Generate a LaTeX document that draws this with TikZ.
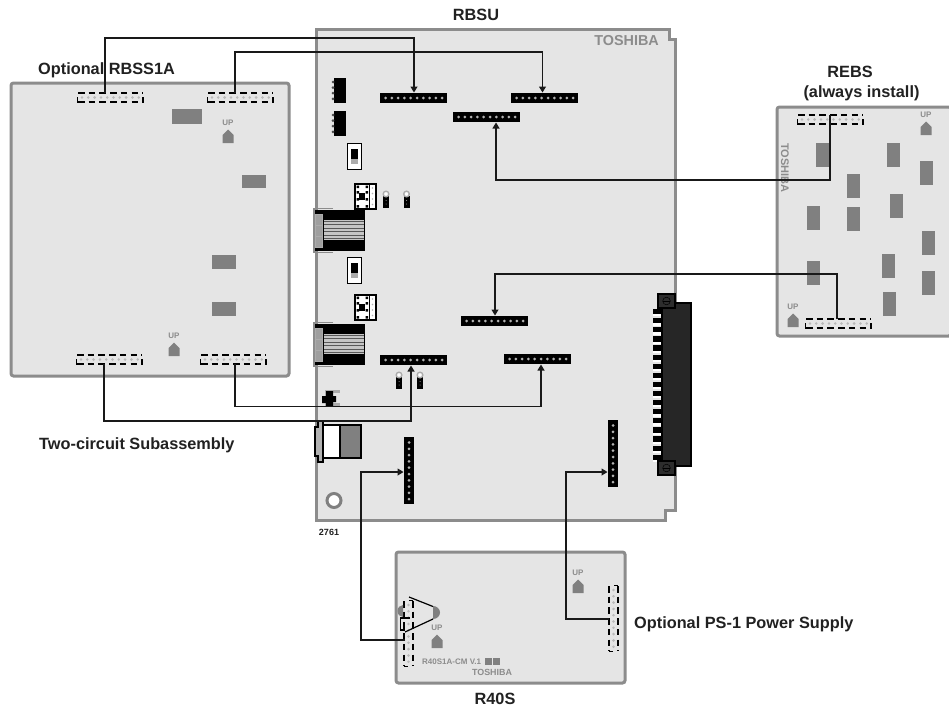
\documentclass[tikz,border=0pt]{standalone}
\usepackage{fontspec}
\setmainfont{Liberation Sans}
\usetikzlibrary{arrows.meta}
\definecolor{bd}{gray}{0.90}
\definecolor{ol}{gray}{0.55}
\definecolor{mg}{gray}{0.50}
\definecolor{tx}{gray}{0.55}
\definecolor{lb}{gray}{0.13}
\newcommand{\mysolidh}[3]{% x y name : horizontal header
  \fill[black] (#1,#2) rectangle ++(67,10);
  \coordinate (#3) at (#1+33.5,#2+5);
  \foreach \i in {0,...,9}{\fill[gray!60] (#1+5.5+\i*6.3,#2+5) circle (1.5);}}
\newcommand{\mysolidv}[3]{%
  \fill[black] (#1,#2) rectangle ++(10,67);
  \coordinate (#3) at (#1+5,#2+33.5);
  \foreach \i in {0,...,9}{\fill[gray!60] (#1+5,#2+5.5+\i*6.3) circle (1.5);}}
\tikzset{hdr/.style={black,line width=1.3,dash pattern=on 6.5 off 4.2}}
\newcommand{\mydashh}[2]{%
  \draw[hdr] (#1+1,#2) -- ++(65,0);
  \draw[hdr] (#1+1,#2+9) -- ++(65,0);
  \draw[black,line width=1.3] (#1+.5,#2+4) -- ++(0,5.5) (#1+66,#2+4) -- ++(0,5.5);
  \foreach \i in {0,...,9}{\fill[gray!55] (#1+5+\i*6.3,#2+4.5) circle (1.4);}}
\newcommand{\mydashv}[2]{%
  \draw[hdr] (#1,#2+1) -- ++(0,65);
  \draw[hdr] (#1+9,#2+1) -- ++(0,65);
  \draw[black,line width=1.3] (#1,#2+66.5) -- ++(4,0) (#1+5,#2+.5) -- ++(4,0);
  \foreach \i in {0,...,9}{\fill[gray!55] (#1+4.5,#2+5+\i*6.3) circle (1.4);}}
\newcommand{\myuparr}[3]{% x y(centre of UP) name
  \node[tx,font=\bfseries\fontsize{8}{8}\selectfont,inner sep=0] (#3) at (#1,#2) {UP};
  \fill[mg] (#1-5.5,#2+20) -- (#1-5.5,#2+12) -- (#1,#2+6.5) -- (#1+5.5,#2+12) -- (#1+5.5,#2+20) -- cycle;}
\newcommand{\mygr}[4]{\fill[mg] (#1,#2) rectangle (#3,#4);}
\newcommand{\myvsw}[2]{%
  \draw[black,fill=white,line width=1.2] (#1,#2) rectangle ++(14,26);
  \fill[black] (#1+3.5,#2+5) rectangle ++(7,10);
  \fill[gray!65] (#1+3.5,#2+15) rectangle ++(7,5);}
\newcommand{\myjack}[2]{%
  \draw[black,fill=white,line width=1.2] (#1,#2) rectangle ++(21,25);
  \fill[black] (#1+1.5,#2+1.5) rectangle ++(2.5,2.5) (#1+1.5,#2+7) rectangle ++(2.5,2.5) (#1+1.5,#2+14) rectangle ++(2.5,2.5) (#1+1.5,#2+21) rectangle ++(2.5,2.5);
  \fill[black] (#1+10.5,#2+1.5) rectangle ++(2.5,2.5) (#1+10.5,#2+7) rectangle ++(2.5,2.5) (#1+10.5,#2+14) rectangle ++(2.5,2.5) (#1+10.5,#2+21) rectangle ++(2.5,2.5);
  \fill[black] (#1+4,#2+9) rectangle ++(6,7);
  \fill[black] (#1+13.5,#2) rectangle ++(1.5,25);
  \foreach \i in {0,...,3}{\fill[gray!60] (#1+17.5,#2+4+\i*5.5) circle (0.9);}}
\newcommand{\myterm}[2]{%
  \fill[black] (#1-3,#2+2) rectangle ++(6,12);
  \draw[gray!65,fill=white,line width=1.4] (#1,#2) circle (2.8);
  \fill[gray!70] (#1,#2+6.5) circle (0.5) (#1,#2+10) circle (0.5);}
\newcommand{\myrj}[2]{%
  \fill[black] (#1,#2) rectangle ++(50,41);
  \fill[gray!45] (#1+9,#2+10) rectangle ++(40,20);
  \foreach \i in {0,...,5}{\draw[gray!70!black,line width=.7] (#1+9,#2+11+\i*3.5) -- ++(40,0);}
  \draw[gray!65,fill=gray!75,line width=.7] (#1,#2+4) rectangle ++(7,11) (#1,#2+15) rectangle ++(7,11) (#1,#2+26) rectangle ++(7,11);
  \draw[ol,line width=1.4] (#1+18,#2-1.5)--(#1-1,#2-1.5)--(#1-1,#2+42.5)--(#1+18,#2+42.5);}
\begin{document}
\begin{tikzpicture}[x=1pt,y=-1pt,
  board/.style={draw=ol,fill=bd,line width=3,rounded corners=2.5},
  lbl/.style={font=\bfseries\fontsize{16.3}{18}\selectfont,text=lb,inner sep=0},
  wire/.style={draw=black!90,line width=1.1},
  wirea/.style={wire,-{Triangle[length=6,width=7]}},
  tosh/.style={font=\bfseries\fontsize{#1}{#1}\selectfont,text=tx,inner sep=0}]
\useasboundingbox (0,0) rectangle (949,709);
\fill[white] (0,0) rectangle (949,709);
% boards
\path[draw=ol,fill=bd,line width=3,line join=miter] (316,30) -- (669,30) -- (669,40) -- (675,40) -- (675,510) -- (665,510) -- (665,520) -- (316,520) -- cycle;
\path[board] (11,83) rectangle (289,376);
\path[board] (777,107) -- (951,107) -- (951,336) -- (777,336) -- cycle;
\path[board] (396,552) rectangle (625,683);
% RBSU contents
\mysolidh{380}{93}{h1}
\mysolidh{511}{93}{h2}
\mysolidh{453}{112}{h3}
\mysolidh{461}{316}{h4}
\mysolidh{380}{355}{h5}
\mysolidh{504}{354}{h6}
\mysolidv{404}{437}{v1}
\mysolidv{608}{420}{v2}
\foreach \y in {78,111}{
  \fill[black] (334,\y) rectangle ++(12,25);
  \foreach \i in {0,...,3}{\fill[gray!60!black] (333,\y+4+\i*5.6) circle (1.5);}}
\myvsw{347.5}{143.5}
\myvsw{347.5}{257.5}
\myjack{355}{184}
\myjack{355}{295}
\myterm{386}{194}
\myterm{406.5}{194}
\myterm{399}{375}
\myterm{420}{375}
\myrj{315}{210}
\myrj{315}{324}
% small connector
\fill[gray!65] (325,390) rectangle (340,406);
\fill[bd] (333,393) rectangle (341,403);
\fill[black] (322,396) rectangle (326,403) (326,391) rectangle (333,406) (333,396) rectangle (336,402);
% bottom-left connector
\draw[black,fill=white,line width=1.2] (323,425) rectangle (361,458);
\fill[mg] (340,425) rectangle (361,458);
\draw[black,line width=1.2] (340,425) rectangle (361,458);
\draw[black,fill=gray!60,line width=1.2] (315,427) -- (318,427) -- (318,421) -- (323,421) -- (323,462) -- (318,462) -- (318,456) -- (315,456) -- cycle;
% ring
\draw[mg,fill=white,line width=3] (334,500.5) circle (7);
% edge connector
\foreach \i in {0,...,16}{
  \fill[black] (653,309+\i*9.1) rectangle ++(10,5.2);
  \fill[white] (653,314.2+\i*9.1) rectangle ++(10,2.2);}
\draw[black,fill=gray!30!black,line width=1.2] (662,303) -- (691,303) -- (691,466) -- (662,466) -- cycle;
\foreach \y in {294,461}{
  \draw[black,fill=gray!35!black,line width=1.2] (658,\y) rectangle ++(17,14);
  \draw[black,line width=.5] (666.5,\y+7) circle (3.8);
  \draw[black,line width=.5] (662.7,\y+7) -- ++(7.6,0);}
\node[tosh=14.4,anchor=east] (toshA) at (659,41) {TOSHIBA};
% RBSS1A
\mydashh{77}{93}
\mydashh{207}{93}
\mydashh{76}{355}
\mydashh{200}{355}
\mygr{172}{109}{202}{124}
\mygr{242}{175}{266}{188}
\mygr{212}{255}{236}{269}
\mygr{212}{302}{236}{316}
\myuparr{228}{123}{upa}
\myuparr{174}{336}{upb}
% REBS
\mydashh{797}{115}
\mydashh{805}{319}
\mygr{816}{143}{829}{167}
\mygr{887}{143}{900}{167}
\mygr{920}{161}{933}{185}
\mygr{847}{174}{860}{198}
\mygr{890}{194}{903}{218}
\mygr{807}{206}{820}{230}
\mygr{847}{207}{860}{231}
\mygr{922}{231}{935}{255}
\mygr{882}{254}{895}{278}
\mygr{807}{261}{820}{285}
\mygr{922}{271}{935}{295}
\mygr{883}{292}{896}{316}
\myuparr{926}{115}{upc}
\myuparr{793}{307}{upd}
\node[tosh=11,rotate=-90] (toshB) at (785,168) {TOSHIBA};
% R40S
\mydashv{404}{600}
\mydashv{609}{585}
\myuparr{437}{628}{upe}
\myuparr{578}{573}{upf}
\fill[mg] (433,606) arc (-90:90:7 and 6.5) -- cycle;
\fill[mg] (403,617) arc (90:270:5.5 and 6) -- cycle;
\draw[black,line width=1.2] (409,597) -- (433,606.5);
\draw[black,line width=1.2] (433,619) -- (405,632);
\draw[black,line width=1.2] (410,618) -- (400.5,618) -- (400.5,630) -- (405,630);
\node[tosh=8,anchor=west] (r40a) at (422,661.5) {R40S1A-CM V.1};
\mygr{485}{658}{491.5}{665}
\mygr{493}{658}{500}{665}
\node[tosh=8.9] (toshC) at (492,672.5) {TOSHIBA};
% coordinates of wire ends
\coordinate (a1) at (105,93);
\coordinate (a2) at (235,93);
\coordinate (a3) at (830,115);
\coordinate (a4) at (837,319);
\coordinate (a5) at (104,364);
\coordinate (a6) at (235,364);
\coordinate (a7) at (405,640);
\coordinate (a8) at (609,619);
% labels
\node[lbl] (rbsu) at (476,15) {RBSU};
\node[lbl,anchor=west] (rbss) at (38,70) {Optional RBSS1A};
\node[lbl] (rebs) at (850,72) {REBS};
\node[lbl] (rebs2) at (861.5,93) {(always install)};
\node[lbl,anchor=west] (two) at (39,445) {Two-circuit Subassembly};
\node[lbl,anchor=west] (ps) at (634,624) {Optional PS-1 Power Supply};
\node[lbl] (r40) at (495,699) {R40S};
\node[font=\bfseries\fontsize{9}{9}\selectfont,text=lb,inner sep=0] (n2761) at (329,532.5) {2761};
% wires
\draw[wirea] (a1) -- (105,38) -| (414,92.5);
\draw[wirea] (a2) -- (235,52) -| (542.5,92.5);
\draw[wirea] (a3) |- (496,180) -- (496,122.5);
\draw[wirea] (a4) |- (495,274) -- (495,315.5);
\draw[wirea] (a5) |- (411,421) -- (411,365.5);
\draw[wirea] (a6) |- (541,406.5) -- (541,364.5);
\draw[wirea] (a7) -| (361,472) -- (403.5,472);
\draw[wirea] (a8) -| (566,472) -- (607.5,472);
\end{tikzpicture}
\end{document}
